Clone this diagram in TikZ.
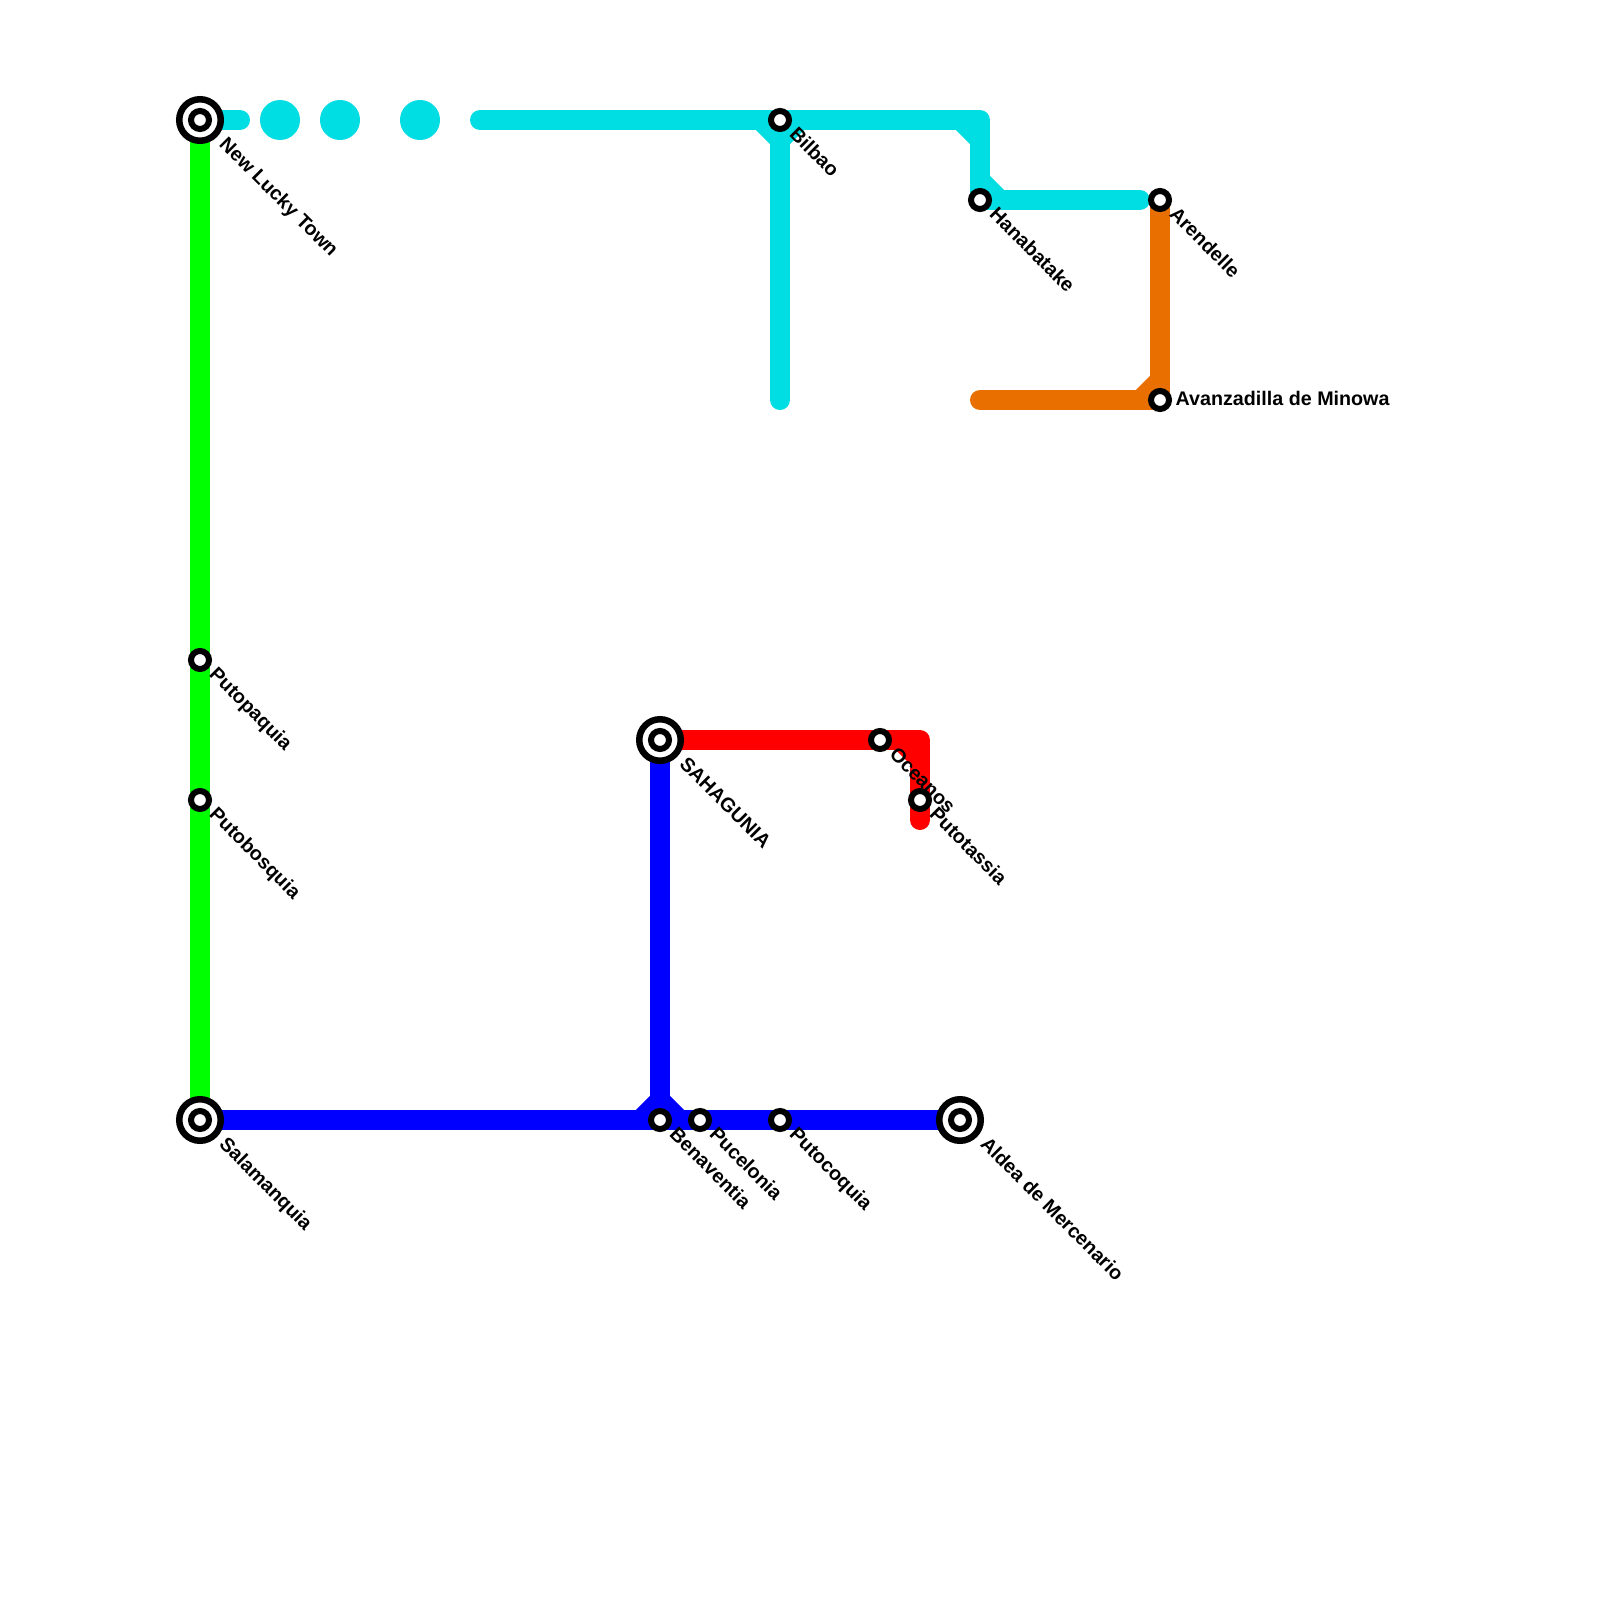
\documentclass[tikz,border=0pt]{standalone}
\usepackage{fontspec}
\setmainfont{Liberation Sans}
\usetikzlibrary{backgrounds}
\definecolor{aqua}{HTML}{00DEE3}
\definecolor{amber}{HTML}{E97000}
\definecolor{lineblue}{HTML}{0000FF}
\definecolor{linered}{HTML}{FF0000}
\definecolor{linegreen}{HTML}{00FF00}
\tikzset{
  track/.style={line width=0.2cm,line cap=round,line join=round},
  stn/.style={circle,draw=black,line width=0.06cm,fill=white,minimum size=0.18cm,inner sep=0pt},
  hub/.style={circle,draw=black,line width=0.065cm,fill=white,minimum size=0.415cm,inner sep=0pt},
  blob/.style={circle,fill=aqua,minimum size=0.4cm,inner sep=0pt},
  lbl/.style={anchor=base west,rotate=-45,inner sep=0pt,font=\fontsize{5.6pt}{6pt}\selectfont\bfseries},
  lblflat/.style={anchor=base west,inner sep=0pt,font=\fontsize{5.6pt}{6pt}\selectfont\bfseries}
}
\begin{document}
\begin{tikzpicture}[x=0.01cm,y=-0.01cm]
\useasboundingbox (0,0) rectangle (1600,1600);
\coordinate (w1) at (240,120);
\coordinate (w2) at (480,120);
\coordinate (w3) at (980,120);
\coordinate (w4) at (780,400);
\coordinate (w5) at (1140,200);
\coordinate (o1) at (980,400);
\coordinate (r1) at (920,740);
\coordinate (r2) at (920,820);
\coordinate (b1) at (660,1100);
% stations
\foreach \n/\p in {lucky/{200,120},sal/{200,1120},sah/{660,740},ald/{960,1120}}{\node[hub] (\n) at (\p) {};\node[stn] (\n in) at (\p) {};}
\foreach \n/\p in {pap/{200,660},pbo/{200,800},ben/{660,1120},puc/{700,1120},pco/{780,1120},oce/{880,740},pta/{920,800},bil/{780,120},han/{980,200},are/{1160,200},ava/{1160,400}}{\node[stn] (\n) at (\p) {};}
% lines
\begin{scope}[on background layer]
\draw[track,linegreen] (lucky.center)--(pap.center)--(pbo.center)--(sal.center);
\draw[track,aqua] (lucky.center)--(w1);
\node[blob] (d1) at (280,120) {};
\node[blob] (d2) at (340,120) {};
\node[blob] (d3) at (420,120) {};
\draw[track,aqua] (w2)--(w3)--(han.center)--(w5);
\draw[track,aqua] (bil.center)--(w4);
\draw[track,aqua] (760,120)--(780,140)--(800,120);
\draw[track,aqua] (960,120)--(980,140);
\draw[track,aqua] (980,180)--(1000,200);
\draw[track,amber] (o1)--(ava.center)--(are.center);
\draw[track,amber] (1140,400)--(1160,380);
\draw[track,linered] (sah.center)--(oce.center)--(r1)--(r2);
\draw[track,linered] (900,740)--(920,760);
\draw[track,lineblue] (sal.center)--(ald.center);
\draw[track,lineblue] (sah.center)--(b1);
\draw[track,lineblue] (640,1120)--(b1)--(680,1120);
\end{scope}
% labels
\foreach \n/\d/\t in {lucky/{18,25}/New Lucky Town,sal/{18,25}/Salamanquia,sah/{18,25}/SAHAGUNIA,ald/{19,25}/Aldea de Mercenario,pap/{8,15}/Putopaquia,pbo/{8,15}/Putobosquia,ben/{8,15}/Benaventia,puc/{8,15}/Pucelonia,pco/{8,15}/Putocoquia,oce/{8,15}/Oceanos,pta/{8,15}/Putotassia,bil/{8,15}/Bilbao,han/{8,15}/Hanabatake,are/{8,15}/Arendelle}{\node[shift={(\d)},lbl] (\n l) at (\n.center) {\t};}
\node[shift={(15,5)},lblflat] (ava l) at (ava.center) {Avanzadilla de Minowa};
\end{tikzpicture}
\end{document}
